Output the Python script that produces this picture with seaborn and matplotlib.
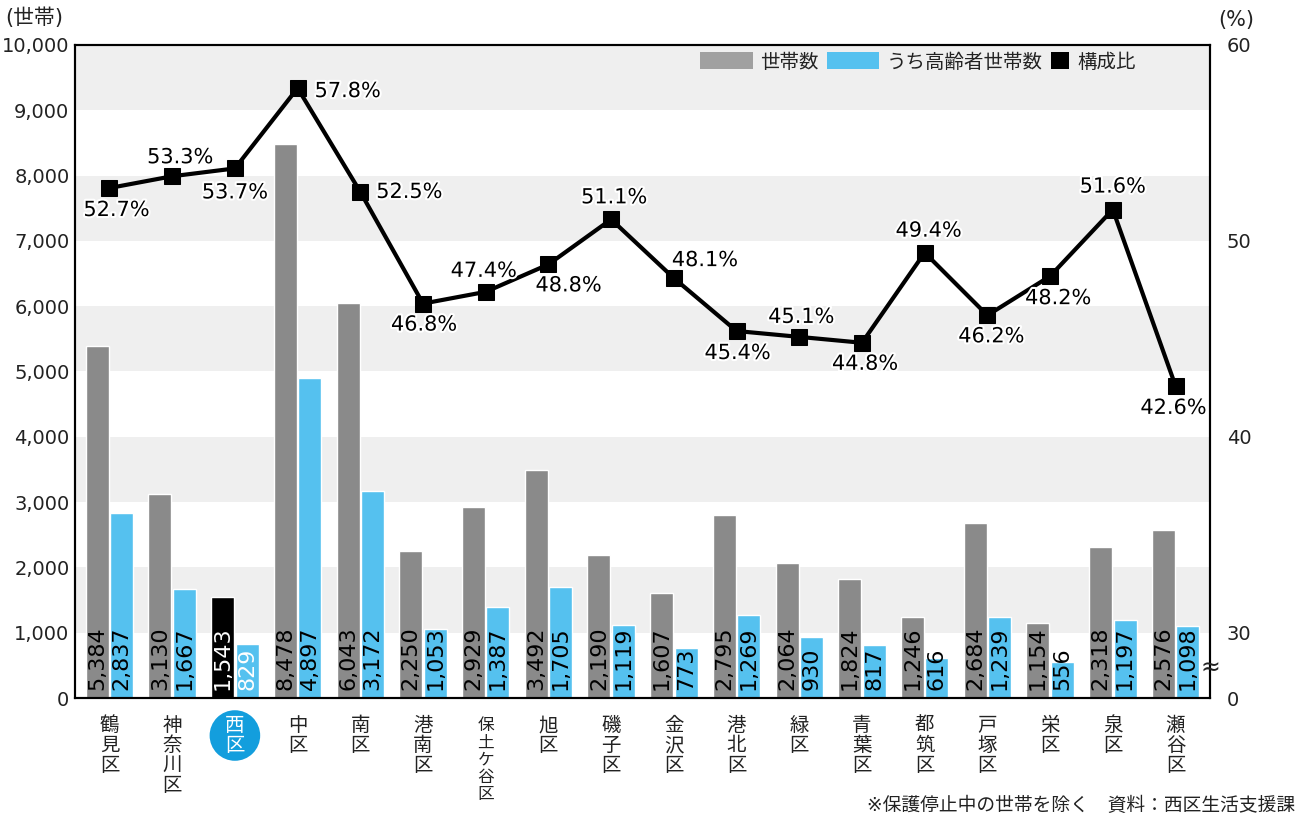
import matplotlib
matplotlib.use("Agg")
import matplotlib.pyplot as plt
import matplotlib.patheffects as pe
import seaborn as sns
import numpy as np
import pandas as pd
from matplotlib.patches import Patch

# ---- data ----
categories = ["鶴見区", "神奈川区", "西区", "中区", "南区", "港南区", "保土ケ谷区", "旭区",
              "磯子区", "金沢区", "港北区", "緑区", "青葉区", "都筑区", "戸塚区", "栄区",
              "泉区", "瀬谷区"]
households = [5384, 3130, 1543, 8478, 6043, 2250, 2929, 3492, 2190, 1607, 2795, 2064,
              1824, 1246, 2684, 1154, 2318, 2576]
elderly = [2837, 1667, 829, 4897, 3172, 1053, 1387, 1705, 1119, 773, 1269, 930,
           817, 616, 1239, 556, 1197, 1098]
ratio = [52.7, 53.3, 53.7, 57.8, 52.5, 46.8, 47.4, 48.8, 51.1, 48.1, 45.4, 45.1,
         44.8, 49.4, 46.2, 48.2, 51.6, 42.6]
left_ticks = list(range(0, 10001, 1000))
right_ticks = [30, 40, 50, 60]

# label offsets (pixels) for the ratio annotations
ratio_offsets = [(7, -22), (8, 19), (0, -24), (50, -3), (49, 0), (1, -21), (-2, 21),
                 (20, -21), (3, 22), (31, 18), (1, -22), (2, 20), (3, -21), (4, 22),
                 (4, -21), (8, -22), (0, 23), (-2, -22)]

GRAY = "#8a8a8a"
GRAY_LEG = "#a0a0a0"
BLUE = "#55c1ef"
BAND = "#efefef"
HILITE = "#139edd"
TEXT = "#222222"

sns.set_theme(style="white")
plt.rcParams["font.family"] = ["DejaVu Sans", "Noto Sans CJK JP"]

n = len(categories)
df = pd.DataFrame({
    "区": categories * 2,
    "系列": ["世帯数"] * n + ["うち高齢者世帯数"] * n,
    "値": households + elderly,
})

W, H = 1308, 816
fig = plt.figure(figsize=(W / 100, H / 100), dpi=100)
ax = fig.add_axes([75 / W, 118 / H, 1135 / W, 653 / H])

# alternating horizontal bands
for k in (1, 3, 5, 7, 9):
    ax.axhspan(k * 1000, (k + 1) * 1000, color=BAND, lw=0, zorder=0)

sns.barplot(data=df, x="区", y="値", hue="系列", palette=[GRAY, BLUE],
            width=0.78, gap=0.06, ax=ax, legend=False, zorder=2, saturation=1)

gray_bars = ax.containers[0]
blue_bars = ax.containers[1]
gray_bars[2].set_facecolor("black")

for i in range(n):
    for bars, vals in ((gray_bars, households), (blue_bars, elderly)):
        b = bars[i]
        col = "white" if i == 2 else "black"
        ax.annotate(f"{vals[i]:,}", xy=(b.get_x() + b.get_width() / 2, 0),
                    xytext=(0, 8), textcoords="offset pixels", rotation=90,
                    ha="center", va="bottom", fontsize=16, color=col, zorder=5)

ax.set_ylim(0, 10000)
ax.set_xlim(-0.55, n - 0.45)
ax.set_yticks(left_ticks)
ax.set_yticklabels([f"{v:,}" for v in left_ticks], fontsize=14, color=TEXT)
ax.set_xticks(range(n))
ax.set_xticklabels(["\n".join(c) for c in categories], fontsize=14, color=TEXT,
                   va="top", linespacing=1.06)
ax.tick_params(axis="y", length=0, pad=4)
ax.tick_params(axis="x", length=0, pad=13)
ax.set_xlabel("")
ax.set_ylabel("")
xlabels = ax.get_xticklabels()
xlabels[2].set_color("white")
xlabels[2].set_bbox(dict(boxstyle="circle,pad=0.3", fc=HILITE, ec="none"))
xlabels[6].set_fontsize(12)
xlabels[6].set_linespacing(0.95)

# ratio line on the secondary axis (30 aligned with 1,000 households)
ax2 = ax.twinx()
lo = 30 - 1000 / 300
sns.lineplot(x=np.arange(n), y=ratio, ax=ax2, color="black", lw=3, marker="s",
             markersize=12, markeredgecolor="black", markerfacecolor="black", zorder=6)
ax2.set_ylim(lo, 60)
ax2.set_yticks([lo] + right_ticks)
ax2.set_yticklabels(["0"] + [str(t) for t in right_ticks], fontsize=14, color=TEXT)
ax2.tick_params(axis="y", length=0, pad=12)
ax2.set_ylabel("")
ax2.set_xlim(-0.55, n - 0.45)

halo = [pe.withStroke(linewidth=3, foreground="white")]
for i, (v, (dx, dy)) in enumerate(zip(ratio, ratio_offsets)):
    ax2.annotate(f"{v}%", xy=(i, v), xytext=(dx, dy), textcoords="offset pixels",
                 ha="center", va="center", fontsize=15, color="black", zorder=7,
                 path_effects=halo)

for a in (ax, ax2):
    for s in a.spines.values():
        s.set_color("black")
        s.set_linewidth(1.5)

# axis break marker on the right spine
ax2.text(1.0, lo + 460 / 300, "≈", transform=ax2.get_yaxis_transform(),
         ha="center", va="center", fontsize=17, color=TEXT)

# legends
leg1 = fig.legend(handles=[Patch(fc=GRAY_LEG, ec="none", label="世帯数"),
                           Patch(fc=BLUE, ec="none", label="うち高齢者世帯数")],
                  loc="center left", bbox_to_anchor=(700 / W, 1 - 62 / H),
                  ncol=2, frameon=False, fontsize=14, handlelength=2.7,
                  handleheight=0.95, handletextpad=0.4, columnspacing=0.4,
                  borderpad=0, borderaxespad=0)
leg2 = fig.legend(handles=[Patch(fc="black", ec="none", label="構成比")],
                  loc="center left", bbox_to_anchor=(1051 / W, 1 - 62 / H),
                  frameon=False, fontsize=14, handlelength=0.95, handleheight=0.95,
                  handletextpad=0.4, borderpad=0, borderaxespad=0)
for lg in (leg1, leg2):
    for t in lg.get_texts():
        t.set_color(TEXT)

fig.text(5 / W, 1 - 18 / H, "(世帯)", ha="left", va="center", fontsize=15, color=TEXT)
fig.text(1236 / W, 1 - 20 / H, "(%)", ha="center", va="center", fontsize=15, color=TEXT)
fig.text(1295 / W, 1 - 805 / H, "※保護停止中の世帯を除く　資料：西区生活支援課",
         ha="right", va="center", fontsize=13.5, color=TEXT)

fig.savefig("out.png", dpi=100, facecolor="white")
